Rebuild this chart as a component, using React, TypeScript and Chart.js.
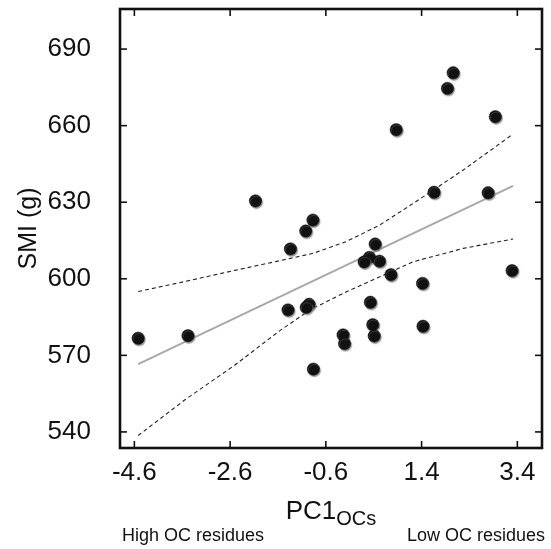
import React, { useEffect, useRef } from "react";
import { Chart, registerables } from "chart.js";

Chart.register(...registerables);

const PC1_VALUES = [
  -2.07, 2.06, 1.94, 2.94, 0.87, 1.66, 2.79, -0.87, -1.02, -1.34,
  0.43, 0.31, 0.2, 0.52, 0.76, 3.29, 1.42, 0.33, -1.39, -0.95,
  -1.01, 0.38, 1.43, 0.41, -0.24, -0.21, -4.52, -3.48, -0.86,
];
const SMI_VALUES = [
  630.5, 680.7, 674.6, 663.5, 658.4, 633.9, 633.7, 623, 618.7, 611.7,
  613.6, 608.4, 606.6, 606.9, 601.6, 603.2, 598.2, 590.8, 587.8, 590,
  588.8, 582, 581.4, 577.6, 578, 574.6, 576.7, 577.7, 564.6,
];
const FIT_X = [-4.52, 3.31];
const FIT_Y = [566.6, 636.4];
const UPPER_X = [-4.52, -3.55, -2.5, -1.56, -0.86, -0.17, 0.53, 1.23, 2.27, 3.31];
const UPPER_BAND = [595, 598.9, 603.3, 607.1, 610, 614.6, 621.1, 629.6, 642.6, 656.7];
const LOWER_X = [-4.52, -3.55, -2.5, -1.56, -0.93, -0.17, 0.53, 1.23, 2.27, 3.31];
const LOWER_BAND = [538.6, 552.5, 566.2, 579.7, 587.8, 594.9, 600.8, 606.7, 611.9, 615.6];
const X_TICKS = [-4.6, -2.6, -0.6, 1.4, 3.4];
const Y_TICKS = [540, 570, 600, 630, 660, 690];
const X_TITLE = "PC1";
const X_TITLE_SUB = "OCs";
const Y_TITLE = "SMI (g)";
const LEFT_NOTE = "High OC residues";
const RIGHT_NOTE = "Low OC residues";

const FONT = "'Liberation Sans', Arial, sans-serif";
const INK = "#111";

const zip = (xs: number[], ys: number[]) => xs.map((x, i) => ({ x, y: ys[i] }));

const shadowPlugin = {
  id: "dotShadow",
  beforeDatasetDraw(chart: any, args: any) {
    if (args.index === 0) {
      const ctx = chart.ctx;
      ctx.save();
      ctx.shadowColor = "rgba(130,130,130,0.85)";
      ctx.shadowOffsetX = 1;
      ctx.shadowOffsetY = 1.5;
      ctx.shadowBlur = 1;
    }
  },
  afterDatasetDraw(chart: any, args: any) {
    if (args.index === 0) chart.ctx.restore();
  },
};

const framePlugin = {
  id: "frame",
  afterDraw(chart: any) {
    const { ctx, chartArea: a, scales } = chart;
    ctx.save();
    ctx.strokeStyle = INK;
    ctx.lineWidth = 1.6;
    const tl = 7;
    const seg = (x1: number, y1: number, x2: number, y2: number) => {
      ctx.beginPath();
      ctx.moveTo(x1, y1);
      ctx.lineTo(x2, y2);
      ctx.stroke();
    };
    scales.x.ticks.forEach((t: any) => {
      const px = scales.x.getPixelForValue(t.value);
      seg(px, a.bottom, px, a.bottom - tl);
      seg(px, a.top, px, a.top + tl);
    });
    scales.y.ticks.forEach((t: any) => {
      const py = scales.y.getPixelForValue(t.value);
      seg(a.left, py, a.left + tl, py);
      seg(a.right, py, a.right - tl, py);
    });
    ctx.lineWidth = 2.6;
    ctx.strokeRect(a.left, a.top, a.right - a.left, a.bottom - a.top);

    // x title with subscript
    ctx.fillStyle = INK;
    ctx.textBaseline = "alphabetic";
    ctx.textAlign = "left";
    ctx.font = `26px ${FONT}`;
    const w1 = ctx.measureText(X_TITLE).width;
    ctx.font = `20px ${FONT}`;
    const w2 = ctx.measureText(X_TITLE_SUB).width;
    const cx = (a.left + a.right) / 2;
    const sx = cx - (w1 + w2) / 2;
    ctx.font = `26px ${FONT}`;
    ctx.fillText(X_TITLE, sx, 519);
    ctx.font = `20px ${FONT}`;
    ctx.fillText(X_TITLE_SUB, sx + w1, 525);

    // notes
    ctx.font = `18px ${FONT}`;
    ctx.textAlign = "left";
    ctx.fillText(LEFT_NOTE, 122, 541);
    ctx.textAlign = "right";
    ctx.fillText(RIGHT_NOTE, 545, 541);
    ctx.restore();
  },
};

export default function App() {
  const ref = useRef<HTMLCanvasElement | null>(null);
  useEffect(() => {
    if (!ref.current) return;
    Chart.defaults.font.family = FONT;
    const chart = new Chart(ref.current, {
      type: "scatter",
      data: {
        datasets: [
          {
            label: "SMI",
            data: zip(PC1_VALUES, SMI_VALUES),
            backgroundColor: INK,
            borderColor: INK,
            pointRadius: 6.2,
            pointBorderWidth: 0.5,
          },
          {
            label: "fit",
            data: zip(FIT_X, FIT_Y),
            showLine: true,
            borderColor: "#a8a8a8",
            borderWidth: 2,
            pointRadius: 0,
          },
          {
            label: "upper",
            data: zip(UPPER_X, UPPER_BAND),
            showLine: true,
            borderColor: "#222",
            borderWidth: 1.1,
            borderDash: [4, 3],
            pointRadius: 0,
          },
          {
            label: "lower",
            data: zip(LOWER_X, LOWER_BAND),
            showLine: true,
            borderColor: "#222",
            borderWidth: 1.1,
            borderDash: [4, 3],
            pointRadius: 0,
          },
        ],
      },
      options: {
        responsive: false,
        animation: false,
        devicePixelRatio: 1,
        layout: { padding: { left: 0, right: 9, top: 9, bottom: 0 } },
        plugins: { legend: { display: false }, tooltip: { enabled: false } },
        scales: {
          x: {
            type: "linear",
            min: -4.9,
            max: 3.915,
            afterBuildTicks: (s: any) => {
              s.ticks = X_TICKS.map((v) => ({ value: v }));
            },
            afterFit: (s: any) => {
              s.height = 101;
              s.paddingLeft = 0;
              s.paddingRight = 0;
              s.paddingTop = 0;
              s.paddingBottom = 0;
            },
            grid: { display: false, drawTicks: false },
            border: { display: false },
            ticks: {
              font: { size: 26 },
              color: INK,
              padding: 9,
              maxRotation: 0,
              autoSkip: false,
              callback: (v: any) => Number(v).toFixed(1),
            },
          },
          y: {
            type: "linear",
            min: 533.7,
            max: 705.7,
            afterBuildTicks: (s: any) => {
              s.ticks = Y_TICKS.map((v) => ({ value: v }));
            },
            afterFit: (s: any) => {
              s.width = 120;
              s.paddingLeft = 0;
              s.paddingRight = 0;
              s.paddingTop = 0;
              s.paddingBottom = 0;
            },
            grid: { display: false, drawTicks: false },
            border: { display: false },
            ticks: {
              font: { size: 26 },
              color: INK,
              padding: 29,
              autoSkip: false,
              callback: (v: any) => String(v),
            },
            title: {
              display: true,
              text: Y_TITLE,
              font: { size: 25 },
              color: INK,
              padding: { top: 14, bottom: 0 },
            },
          },
        },
      },
      plugins: [shadowPlugin, framePlugin],
    } as any);
    return () => chart.destroy();
  }, []);
  return (
    <div style={{ position: "absolute", left: 0, top: 0, width: 551, height: 549, background: "#fff" }}>
      <canvas ref={ref} width={551} height={549} style={{ display: "block" }} />
    </div>
  );
}
